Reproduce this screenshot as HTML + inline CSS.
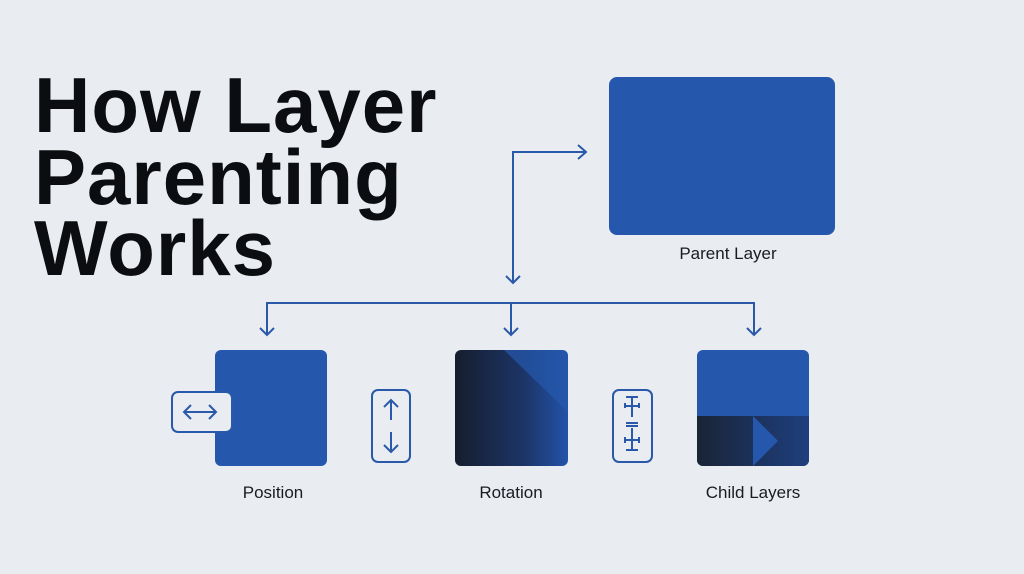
<!DOCTYPE html>
<html><head><style>
body{margin:0;width:1024px;height:574px;background:#e9ecf0;font-family:"Liberation Sans",sans-serif;overflow:hidden;position:relative}
.t{position:absolute;left:34px;font-weight:bold;font-size:78px;color:#0c0d10;letter-spacing:1px;line-height:74px}
.l{position:absolute;font-size:17px;color:#1a1c22;text-align:center;width:200px}
</style></head><body>
<div class="t" style="top:68px">How Layer</div>
<div class="t" style="top:140px">Parenting</div>
<div class="t" style="top:211px">Works</div>
<svg width="1024" height="574" style="position:absolute;left:0;top:0">
<defs>
<linearGradient id="g1" x1="0" x2="1"><stop offset="0" stop-color="#161e2e"/><stop offset=".6" stop-color="#1c3466"/><stop offset="1" stop-color="#2353a8"/></linearGradient>
<linearGradient id="g2" x1="0" x2="1"><stop offset="0" stop-color="#1a2436"/><stop offset="1" stop-color="#1e3f7e"/></linearGradient>
</defs>
<rect x="609" y="77" width="226" height="158" rx="8" fill="#2558ad"/>
<g stroke="#2a59aa" stroke-width="2" fill="none">
<path d="M586 152H513V283"/><path d="M578 145l8 7-8 7"/><path d="M506 276l7 7 7-7"/>
<path d="M267 335V303H754V335"/><path d="M511 303V335"/>
<path d="M260 328l7 7 7-7"/><path d="M504 328l7 7 7-7"/><path d="M747 328l7 7 7-7"/>
</g>
<rect x="215" y="350" width="112" height="116" rx="6" fill="#2558ad"/>
<rect x="455" y="350" width="113" height="116" rx="6" fill="url(#g1)"/>
<path d="M504 350H563a5 5 0 0 1 5 5V412Z" fill="#2558ad" opacity=".7"/>
<rect x="697" y="350" width="112" height="116" rx="6" fill="#2558ad"/>
<path d="M697 416H809V460a6 6 0 0 1-6 6H703a6 6 0 0 1-6-6Z" fill="url(#g2)"/>
<path d="M753 416L778 441L753 466Z" fill="#2558ad"/>
<g stroke="#2a59aa" stroke-width="2" fill="none">
<rect x="172" y="392" width="60" height="40" rx="6" fill="#e9ecf0"/>
<path d="M184 412h32M191 405l-7 7 7 7M209 405l7 7-7 7"/>
<rect x="372" y="390" width="38" height="72" rx="6"/>
<path d="M391 400v20M384 407l7-7 7 7M391 432v20M384 445l7 7 7-7"/>
<rect x="613" y="390" width="39" height="72" rx="6"/>
<path d="M632 397v20M626 397h12M625 408v-5M639 408v-5M624 406h16M626 423h12M626 426h12M632 428v22M626 450h12M624 440h16M625 437v6M639 437v6"/>
</g>
</svg>
<div class="l" style="left:628px;top:244px">Parent Layer</div>
<div class="l" style="left:173px;top:483px">Position</div>
<div class="l" style="left:411px;top:483px">Rotation</div>
<div class="l" style="left:653px;top:483px">Child Layers</div>
</body></html>
